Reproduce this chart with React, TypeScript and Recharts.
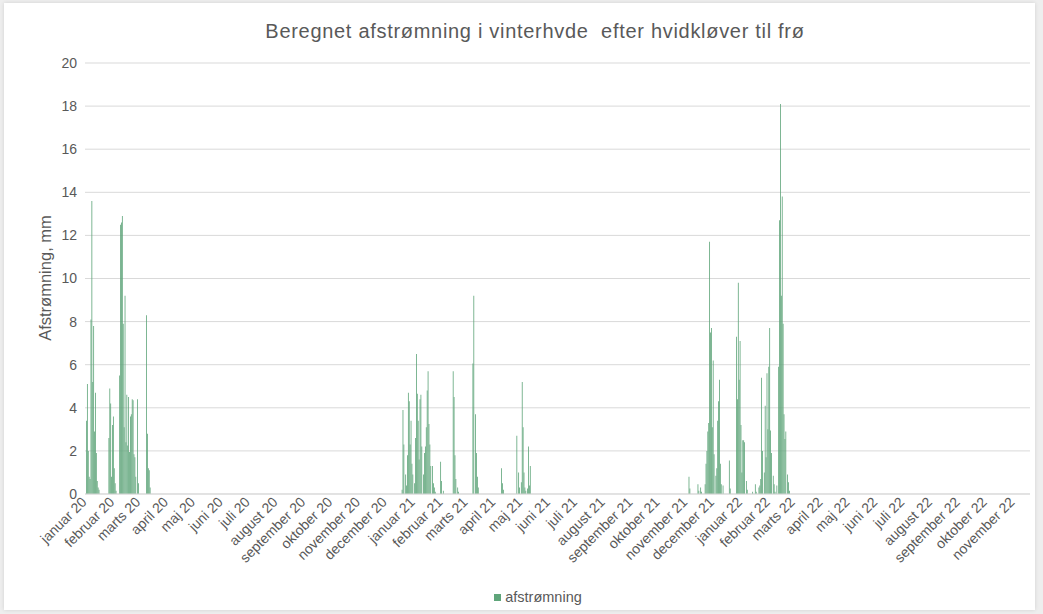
import { BarChart, Bar, XAxis, YAxis, CartesianGrid, Legend } from 'recharts'

const TITLE = 'Beregnet afstrømning i vinterhvde  efter hvidkløver til frø'
const Y_LABEL = 'Afstrømning, mm'
const SERIES_NAME = 'afstrømning'

const MONTHS = ['januar', 'februar', 'marts', 'april', 'maj', 'juni', 'juli', 'august', 'september', 'oktober', 'november', 'december']
const YEARS = [2020, 2021, 2022]
const LAST_MONTH_2022 = 10 // november 22 is the last label
const Y_TICKS = [0, 2, 4, 6, 8, 10, 12, 14, 16, 18, 20]

// dag = days counted from 1 januar 2020, mm = calculated runoff that day
// every day not listed has no runoff
const dage2020 = [0, 1, 2, 3, 4, 5, 6, 7, 8, 9, 10, 11, 12, 13, 14,
  25, 26, 27, 28, 29, 30, 31, 32, 33,
  37, 38, 39, 40, 41, 42, 43, 44, 45, 46, 47, 48, 49, 50, 51, 52, 53, 54, 55, 57, 58,
  67, 68, 69, 70, 71]
const mm2020 = [3.4, 5.1, 2.0, 0.8, 0.7, 8.1, 13.6, 5.2, 7.8, 2.9, 4.7, 1.9, 0.6, 0.3, 0.2,
  2.6, 4.9, 4.2, 0.8, 3.2, 3.6, 1.2, 0.5, 0.15,
  5.5, 12.5, 12.6, 12.9, 7.9, 3.1, 9.2, 2.4, 4.6, 2.25, 4.5, 1.95, 3.6, 3.7, 4.4, 4.35, 1.85, 1.7, 0.8, 4.4, 0.5,
  8.3, 2.8, 1.2, 1.1, 0.3]

const dage2021 = [352, 353, 354, 356, 357, 358, 359, 360, 361, 362, 363, 364, 366, 367, 368, 369, 370, 371, 372, 373, 374,
  376, 377, 378, 379, 380, 381, 382, 383, 384, 386, 387, 388, 389,
  395, 396, 398,
  409, 410, 411, 412, 414, 415,
  431, 432, 434, 435, 436, 437,
  463, 464, 465,
  480, 482, 483, 485, 486, 487, 488, 489, 490, 492, 493, 494, 495]
const mm2021 = [0.2, 3.9, 2.3, 0.9, 0.4, 1.8, 4.7, 4.3, 2.3, 3.4, 1.4, 0.9, 0.5, 2.6, 6.5, 4.65, 3.4, 1.6, 4.4, 4.6, 2.2,
  0.9, 1.9, 2.2, 3.1, 4.8, 5.7, 3.25, 2.3, 1.3, 1.3, 0.5, 0.3, 0.1,
  1.5, 0.6, 0.15,
  5.7, 4.5, 1.8, 0.7, 0.3, 0.1,
  6.05, 9.2, 3.7, 1.9, 0.8, 0.3,
  1.2, 0.5, 0.2,
  2.7, 1.0, 0.3, 0.55, 5.2, 3.1, 1.0, 0.3, 0.15, 0.25, 2.2, 0.4, 1.3]

const dage2022 = [672, 673, 682, 683, 685, 686,
  690, 691, 692, 693, 694, 695, 696, 697, 698, 699, 700, 702, 703, 704, 705, 706, 707, 708, 710,
  717, 718,
  725, 726, 727, 728, 729, 730, 731, 732, 733, 734, 736, 737,
  743, 746, 747, 750, 751, 752, 753, 754, 756, 757, 758, 759, 760, 761, 762, 763, 764, 766, 767, 768,
  770, 772, 773, 774, 775, 776, 777, 778, 779, 780, 782, 783, 784]
const mm2022 = [0.8, 0.25, 0.45, 0.15, 0.3, 0.1,
  0.45, 1.4, 2.0, 2.9, 3.3, 11.7, 7.5, 7.7, 3.1, 6.2, 1.85, 0.85, 1.2, 3.4, 4.3, 5.3, 1.4, 0.45, 0.4,
  1.55, 0.25,
  7.3, 4.4, 9.8, 5.3, 7.1, 3.2, 1.0, 2.5, 2.5, 2.4, 0.6, 0.2,
  0.1, 0.45, 0.1, 0.3, 0.4, 0.7, 5.4, 2.0, 1.0, 4.1, 1.7, 5.6, 3.0, 5.9, 7.7, 2.95, 1.9, 0.85, 0.45, 0.1,
  0.4, 5.9, 12.7, 18.1, 9.2, 13.8, 7.9, 3.7, 2.55, 2.9, 0.9, 0.55, 0.15]

const LAST_DAY = 1050

const GREEN = '#5fa57a'
const TEXT = '#595959'
const GRID = '#d9d9d9'

const DAY_MS = 86400000
const START = Date.UTC(2020, 0, 1)

// month ticks on the day axis
const monthTicks: number[] = []
const tickLabel: Record<number, string> = {}
YEARS.forEach(y => {
  MONTHS.forEach((name, m) => {
    if (y === 2022 && m > LAST_MONTH_2022) return
    const d = Math.round((Date.UTC(y, m, 1) - START) / DAY_MS)
    monthTicks.push(d)
    tickLabel[d] = `${name} ${String(y).slice(2)}`
  })
})

const chartData = Array.from({ length: LAST_DAY + 1 }, (_, day) => ({ day, afstroemning: 0 }))
const winters: [number[], number[]][] = [[dage2020, mm2020], [dage2021, mm2021], [dage2022, mm2022]]
winters.forEach(([dage, mm]) => {
  dage.forEach((d, i) => { chartData[d].afstroemning = mm[i] })
})

function MonthTick({ x, y, payload }: any) {
  return (
    <text
      x={x}
      y={y}
      dy="0.1em"
      transform={`rotate(-45 ${x} ${y})`}
      textAnchor="end"
      fill={TEXT}
      fontSize={14}
    >
      {tickLabel[payload.value]}
    </text>
  )
}

export default function App() {
  return (
    <div style={{ position: 'absolute', left: 0, top: 0, width: 1043, height: 614, background: '#eeeeee', fontFamily: '"Liberation Sans", Arial, sans-serif' }}>
      <div style={{ position: 'absolute', left: 4, top: 3, width: 1031, height: 607, background: '#ffffff', boxShadow: '0 0 4px rgba(0,0,0,0.12)' }} />

      <div style={{ position: 'absolute', left: 0, top: 0 }}>
        <BarChart
          width={1043}
          height={614}
          data={chartData}
          margin={{ top: 63, right: 13, bottom: 5, left: 0 }}
          barCategoryGap={0}
        >
          <CartesianGrid vertical={false} stroke={GRID} />
          <XAxis
            type="number"
            dataKey="day"
            domain={[-1.7, 1052.3]}
            allowDataOverflow
            ticks={monthTicks}
            interval={0}
            tick={<MonthTick />}
            tickLine={false}
            axisLine={{ stroke: GRID }}
            height={97}
          />
          <YAxis
            domain={[0, 20]}
            ticks={Y_TICKS}
            interval={0}
            width={85}
            axisLine={false}
            tickLine={false}
            tick={{ fill: TEXT, fontSize: 14 }}
          />
          <Bar dataKey="afstroemning" name={SERIES_NAME} fill={GREEN} barSize={1} isAnimationActive={false} />
          <Legend
            verticalAlign="bottom"
            iconType="square"
            iconSize={7}
            wrapperStyle={{ left: 28, bottom: 8 }}
            formatter={(v: string) => <span style={{ color: TEXT, fontSize: 14.5 }}>{v}</span>}
          />
        </BarChart>
      </div>

      {/* title and y-axis label */}
      <div style={{ position: 'absolute', left: 0, width: 1070, top: 20, textAlign: 'center', color: TEXT, fontSize: 20, letterSpacing: 0.7, whiteSpace: 'pre' }}>
        {TITLE}
      </div>
      <div style={{ position: 'absolute', left: 45, top: 278, transform: 'translate(-50%, -50%) rotate(-90deg)', color: TEXT, fontSize: 16.5, whiteSpace: 'nowrap' }}>
        {Y_LABEL}
      </div>
    </div>
  )
}
